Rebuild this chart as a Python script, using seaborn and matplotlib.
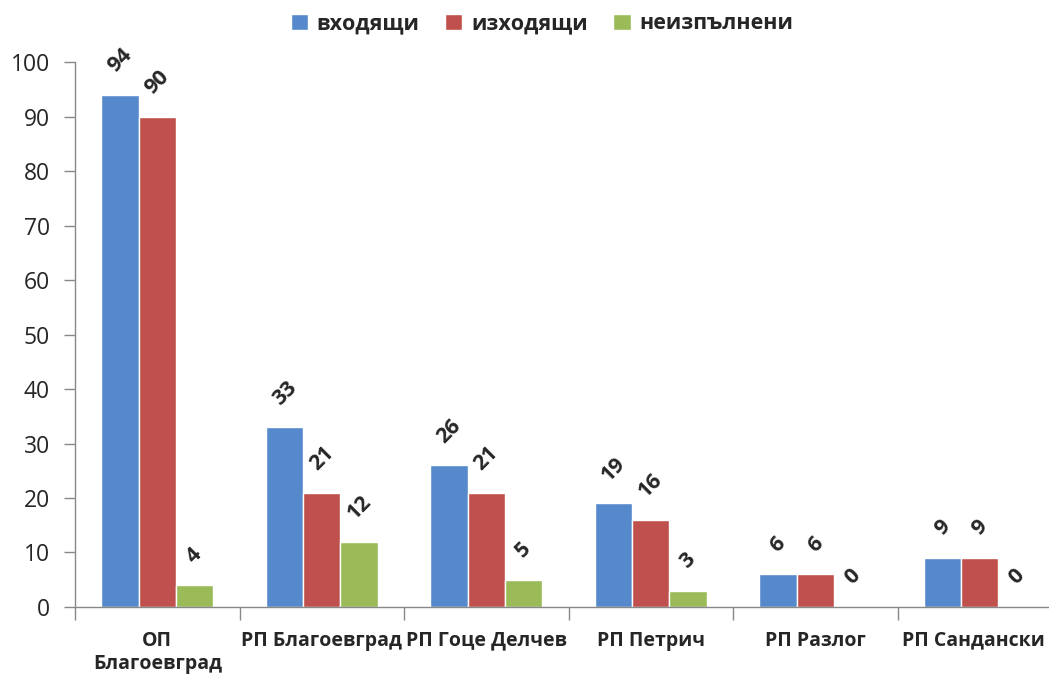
import matplotlib
matplotlib.use("Agg")
import matplotlib.pyplot as plt
import matplotlib.transforms as mtransforms
import pandas as pd
import seaborn as sns

units = ["ОП\nБлагоевград", "РП Благоевград", "РП Гоце Делчев", "РП Петрич", "РП Разлог", "РП Сандански"]
series = ["входящи", "изходящи", "неизпълнени"]
incoming = [94, 33, 26, 19, 6, 9]
outgoing = [90, 21, 21, 16, 6, 9]
pending = [4, 12, 5, 3, 0, 0]
colors = ["#5689CB", "#C0504D", "#9BBB59"]

df = pd.DataFrame({
    "unit": units * 3,
    "kind": [series[0]] * 6 + [series[1]] * 6 + [series[2]] * 6,
    "value": incoming + outgoing + pending,
})

sns.set_style("white")
plt.rcParams["font.family"] = ["Open Sans", "DejaVu Sans"]

fig = plt.figure(figsize=(10.49, 6.77), dpi=100)
ax = fig.add_axes([0.0715, 0.1034, 0.941, 0.805])

sns.barplot(data=df, x="unit", y="value", hue="kind", palette=colors,
            width=0.68, saturation=1, errorbar=None, ax=ax,
            edgecolor="white", linewidth=1)

for cont in ax.containers:
    ax.bar_label(cont, rotation=45, padding=13, fontsize=15.5, fontweight="bold")

ax.set_ylim(0, 100)
ax.set_yticks(range(0, 101, 10))
ax.set_xlim(-0.5, 5.5)
ax.set_xlabel("")
ax.set_ylabel("")

ax.tick_params(axis="y", labelsize=16.5, length=8, width=1, color="#888888", direction="out", left=True, pad=10)
ax.tick_params(axis="x", which="major", length=0, labelsize=14, pad=17)
ax.set_xticks([i + 0.5 for i in range(-1, 6)], minor=True)
ax.tick_params(axis="x", which="minor", length=9, width=1, color="#888888", direction="out", bottom=True)
for lab in ax.get_xticklabels():
    lab.set_fontweight("bold")

# last label sits right at the figure edge, nudge it in a little
last = ax.get_xticklabels()[-1]
last.set_transform(last.get_transform() + mtransforms.ScaledTranslation(-6 / 100, 0, fig.dpi_scale_trans))

for s in ["top", "right"]:
    ax.spines[s].set_visible(False)
for s in ["left", "bottom"]:
    ax.spines[s].set_color("#888888")
    ax.spines[s].set_linewidth(1)

ax.legend(loc="upper center", bbox_to_anchor=(0.473, 1.125), ncol=3, frameon=False,
          prop={"weight": "bold", "size": 15.5}, handlelength=0.8, handleheight=0.8,
          handletextpad=0.4, columnspacing=1.2)

fig.savefig("out.png", dpi=100)
